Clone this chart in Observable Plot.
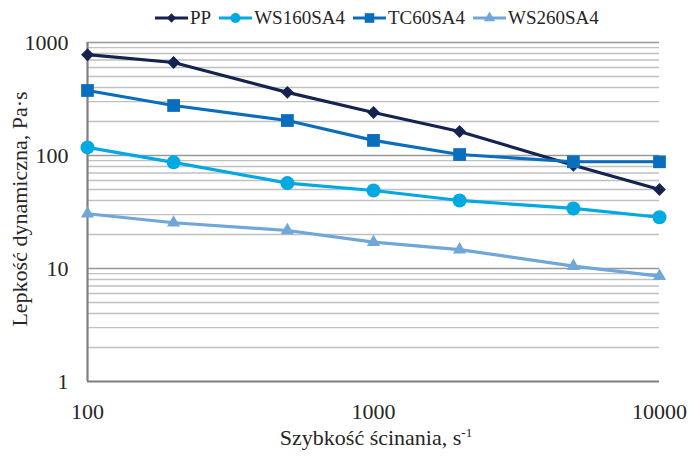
<!DOCTYPE html>
<html>
<head>
<meta charset="utf-8">
<script src="https://cdn.jsdelivr.net/npm/d3@7"></script>
<script src="https://cdn.jsdelivr.net/npm/@observablehq/plot@0.6"></script>
<style>
  html, body { margin: 0; padding: 0; background: #fff; }
  #wrap { position: relative; width: 689px; height: 458px; color: #262626; }
  #legend { position: absolute; top: 7px; left: 155px; display: flex; align-items: center; font-size: 19px; white-space: nowrap; }
  .item { display: flex; align-items: center; margin-right: 8px; }
  .item svg { margin-right: 2px; }
  #xtitle { position: absolute; left: 0; width: 752px; top: 425px; text-align: center; font-size: 22px; }
  #xtitle sup { font-size: 13px; vertical-align: 8px; line-height: 0; }
  #ytitle { position: absolute; left: 7px; top: 209px; font-size: 22px; transform-origin: 0 0; transform: rotate(-90deg) translate(-50%, 0); white-space: nowrap; }
</style>
</head>
<body>
<div id="wrap" style="font-family:'Liberation Serif', serif">
  <div id="legend" style="font-family:'Liberation Serif', serif"></div>
  <div id="ytitle" style="font-family:'Liberation Serif', serif">Lepkość dynamiczna, Pa·s</div>
  <div id="xtitle" style="font-family:'Liberation Serif', serif">Szybkość ścinania, s<sup>-1</sup></div>
</div>
<script>
const shearRates = [100, 200, 500, 1000, 2000, 5000, 10000];
const seriesNames = ["PP", "WS160SA4", "TC60SA4", "WS260SA4"];
const PP = [780, 665, 362, 240, 163, 82, 50];
const WS160SA4 = [118, 87, 57, 49, 40, 34, 28.4];
const TC60SA4 = [376, 277, 204, 136, 102, 88, 88];
const WS260SA4 = [30.5, 25.4, 21.7, 17.1, 14.7, 10.5, 8.55];
const xTicks = [100, 1000, 10000];
const yTicks = [1, 10, 100, 1000];

const seriesValues = {PP, WS160SA4, TC60SA4, WS260SA4};
const colors = {PP: "#14234f", WS160SA4: "#00a9e2", TC60SA4: "#0a6ebd", WS260SA4: "#6ea7d8"};
const symbols = {PP: "diamond2", WS160SA4: "circle", TC60SA4: "square", WS260SA4: "triangle"};
const radii = {PP: 5.8, WS160SA4: 7, TC60SA4: 7.2, WS260SA4: 4.9};
const d3symbols = {PP: d3.symbolDiamond2, WS160SA4: d3.symbolCircle, TC60SA4: d3.symbolSquare, WS260SA4: d3.symbolTriangle};

const rows = seriesNames.flatMap(s => shearRates.map((x, i) => ({series: s, x, y: seriesValues[s][i]})));

const grid = [];
for (let p = 1; p <= 100; p *= 10) for (let k = 1; k < 10; k++) grid.push(k * p);
grid.push(1000);
const decade = grid.filter(v => yTicks.includes(v) && v !== 1);
const minor = grid.filter(v => !yTicks.includes(v));

const marks = [
  Plot.ruleY(minor, {stroke: "#c0c0c0", strokeWidth: 1.4}),
  Plot.ruleY(decade, {stroke: "#999999", strokeWidth: 1.6}),
  Plot.ruleY([1], {stroke: "#7f7f7f", strokeWidth: 2.2}),
  Plot.ruleX([100], {stroke: "#7f7f7f", strokeWidth: 2.2}),
];
for (const s of seriesNames) {
  const data = rows.filter(r => r.series === s);
  marks.push(Plot.line(data, {x: "x", y: "y", stroke: colors[s], strokeWidth: 3.2}));
  marks.push(Plot.dot(data, {x: "x", y: "y", fill: colors[s], stroke: "none", symbol: () => symbols[s], r: radii[s]}));
}

const chart = Plot.plot({
  width: 689,
  height: 458,
  marginLeft: 87,
  marginRight: 30,
  marginTop: 42,
  marginBottom: 77,
  style: {fontFamily: "'Liberation Serif', serif", fontSize: "22px", color: "#262626", background: "white"},
  x: {type: "log", domain: [100, 10000], ticks: xTicks, tickFormat: d => String(d), tickSize: 0, tickPadding: 22, label: null},
  y: {type: "log", domain: [1, 1000], ticks: yTicks, tickFormat: d => String(d), tickSize: 0, tickPadding: 19, label: null},
  symbol: {type: "identity"},
  marks
});
document.getElementById("wrap").prepend(chart);

const legend = document.getElementById("legend");
const legendR = {PP: 4.2, WS160SA4: 5, TC60SA4: 5.4, WS260SA4: 4.2};
for (const s of seriesNames) {
  const item = document.createElement("div");
  item.className = "item";
  const svg = d3.create("svg").attr("width", 33).attr("height", 16);
  svg.append("line").attr("x1", 0).attr("x2", 33).attr("y1", 8).attr("y2", 8).attr("stroke", colors[s]).attr("stroke-width", 3);
  svg.append("path").attr("transform", "translate(16.5,8)")
    .attr("d", d3.symbol(d3symbols[s], legendR[s] * legendR[s] * Math.PI)())
    .attr("fill", colors[s]);
  item.appendChild(svg.node());
  const label = document.createElement("span");
  label.textContent = s;
  item.appendChild(label);
  legend.appendChild(item);
}
</script>
</body>
</html>
